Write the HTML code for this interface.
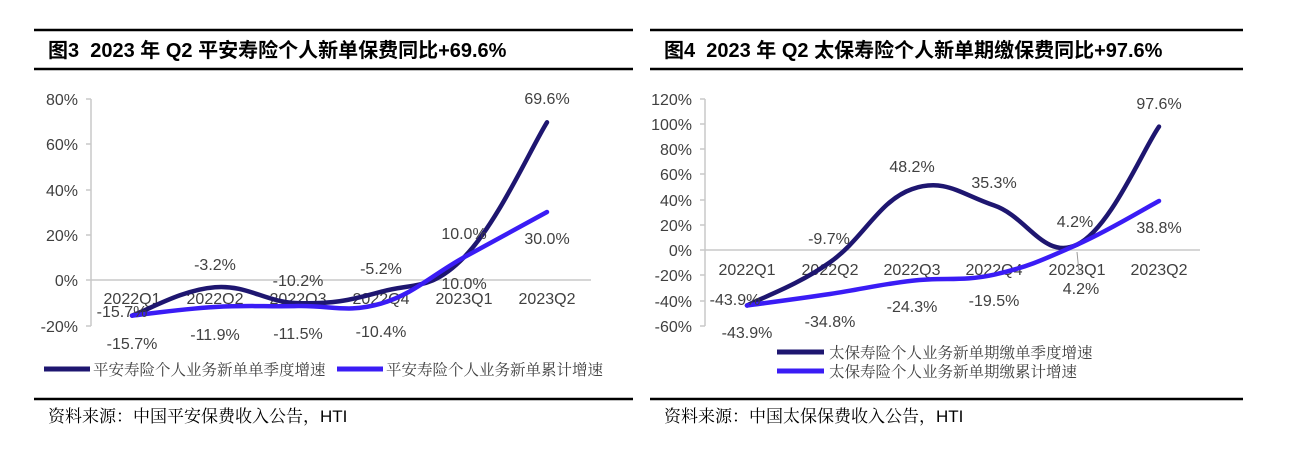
<!DOCTYPE html>
<html><head><meta charset="utf-8"><style>
body{margin:0;background:#fff;width:1305px;height:452px;overflow:hidden}
svg{display:block}
.t{font-family:"Liberation Sans","Noto Sans CJK SC",sans-serif;font-weight:bold;font-size:20px;fill:#000}
.a{font-family:"Liberation Sans",sans-serif;font-size:16px;fill:#404040}
.l{font-family:"Noto Serif CJK SC","Liberation Serif",serif;font-size:15.5px;fill:#404040}
.s{font-family:"Noto Serif CJK SC","Liberation Sans",serif;font-size:17px;fill:#000}
</style></head><body>
<svg width="1305" height="452" xmlns="http://www.w3.org/2000/svg">
<g stroke="#000" stroke-width="2.5">
<line x1="34" y1="30" x2="633" y2="30"/><line x1="34" y1="69" x2="633" y2="69"/><line x1="34" y1="399" x2="633" y2="399"/>
<line x1="650" y1="30" x2="1243" y2="30"/><line x1="650" y1="69" x2="1243" y2="69"/><line x1="650" y1="399" x2="1243" y2="399"/>
</g>
<text class="t" x="48" y="57">图3&#160;&#160;2023 年 Q2 平安寿险个人新单保费同比+69.6%</text>
<text class="t" x="664" y="57">图4&#160;&#160;2023 年 Q2 太保寿险个人新单期缴保费同比+97.6%</text>
<text class="s" x="48" y="422">资料来源：中国平安保费收入公告，<tspan font-family="Liberation Sans">HTI</tspan></text>
<text class="s" x="664" y="422">资料来源：中国太保保费收入公告，<tspan font-family="Liberation Sans">HTI</tspan></text>

<g stroke="#c8c8c8" stroke-width="1.5">
<line x1="91" y1="99" x2="91" y2="326"/><line x1="591" y1="280" x2="91" y2="280"/>
<line x1="86" y1="99" x2="91" y2="99"/><line x1="86" y1="144" x2="91" y2="144"/><line x1="86" y1="190" x2="91" y2="190"/><line x1="86" y1="235" x2="91" y2="235"/><line x1="86" y1="280" x2="91" y2="280"/><line x1="86" y1="326" x2="91" y2="326"/>
</g>
<g class="a" text-anchor="end">
<text x="78" y="105">80%</text><text x="78" y="150">60%</text><text x="78" y="196">40%</text><text x="78" y="241">20%</text><text x="78" y="286">0%</text><text x="78" y="332">-20%</text>
</g>
<g class="a" text-anchor="middle">
<text x="132" y="304">2022Q1</text><text x="215" y="304">2022Q2</text><text x="298" y="304">2022Q3</text><text x="381" y="304">2022Q4</text><text x="464" y="304">2023Q1</text><text x="547" y="304">2023Q2</text>
</g>
<path id="p1" fill="none" stroke="#1e1670" stroke-width="4.5" stroke-linecap="round"/>
<path id="p2" fill="none" stroke="#3a1cf5" stroke-width="4.5" stroke-linecap="round"/>
<g class="a" text-anchor="middle">
<text x="122" y="317">-15.7%</text><text x="215" y="270">-3.2%</text><text x="298" y="286">-10.2%</text><text x="381" y="274">-5.2%</text><text x="464" y="239">10.0%</text><text x="547" y="104">69.6%</text>
<text x="132" y="349">-15.7%</text><text x="215" y="340">-11.9%</text><text x="298" y="339">-11.5%</text><text x="381" y="337">-10.4%</text><text x="464" y="289">10.0%</text><text x="547" y="244">30.0%</text>
</g>
<line x1="44" y1="369" x2="90" y2="369" stroke="#1e1670" stroke-width="5"/>
<text class="l" x="93" y="375">平安寿险个人业务新单单季度增速</text>
<line x1="337" y1="369" x2="383" y2="369" stroke="#3a1cf5" stroke-width="5"/>
<text class="l" x="386" y="375">平安寿险个人业务新单累计增速</text>

<g stroke="#c8c8c8" stroke-width="1.5">
<line x1="705" y1="99" x2="705" y2="326"/><line x1="1200" y1="250" x2="705" y2="250"/>
<line x1="700" y1="99" x2="705" y2="99"/><line x1="700" y1="124" x2="705" y2="124"/><line x1="700" y1="149" x2="705" y2="149"/><line x1="700" y1="174" x2="705" y2="174"/><line x1="700" y1="200" x2="705" y2="200"/><line x1="700" y1="225" x2="705" y2="225"/><line x1="700" y1="250" x2="705" y2="250"/><line x1="700" y1="275" x2="705" y2="275"/><line x1="700" y1="301" x2="705" y2="301"/><line x1="700" y1="326" x2="705" y2="326"/>
</g>
<g class="a" text-anchor="end">
<text x="692" y="105">120%</text><text x="692" y="130">100%</text><text x="692" y="155">80%</text><text x="692" y="180">60%</text><text x="692" y="206">40%</text><text x="692" y="231">20%</text><text x="692" y="256">0%</text><text x="692" y="281">-20%</text><text x="692" y="307">-40%</text><text x="692" y="332">-60%</text>
</g>
<g class="a" text-anchor="middle">
<text x="747" y="275">2022Q1</text><text x="830" y="275">2022Q2</text><text x="912" y="275">2022Q3</text><text x="994" y="275">2022Q4</text><text x="1077" y="275">2023Q1</text><text x="1159" y="275">2023Q2</text>
</g>
<path id="p3" fill="none" stroke="#1e1670" stroke-width="4.5" stroke-linecap="round"/>
<path id="p4" fill="none" stroke="#3a1cf5" stroke-width="4.5" stroke-linecap="round"/>
<line x1="1077" y1="252" x2="1079" y2="272" stroke="#999" stroke-width="1"/>
<g class="a" text-anchor="middle">
<text x="735" y="305">-43.9%</text><text x="829" y="244">-9.7%</text><text x="912" y="172">48.2%</text><text x="994" y="188">35.3%</text><text x="1075" y="227">4.2%</text><text x="1159" y="109">97.6%</text>
<text x="747" y="338">-43.9%</text><text x="830" y="327">-34.8%</text><text x="912" y="312">-24.3%</text><text x="994" y="306">-19.5%</text><text x="1081" y="294">4.2%</text><text x="1159" y="233">38.8%</text>
</g>
<line x1="777" y1="352" x2="824" y2="352" stroke="#1e1670" stroke-width="5"/>
<text class="l" x="829" y="358">太保寿险个人业务新单期缴单季度增速</text>
<line x1="777" y1="371" x2="824" y2="371" stroke="#3a1cf5" stroke-width="5"/>
<text class="l" x="829" y="377">太保寿险个人业务新单期缴累计增速</text>
</svg>
<script>
function sm(xs,vals,y0,k){var p=xs.map(function(x,i){return [x,y0-vals[i]*k]});var d="M"+p[0][0]+","+p[0][1];
for(var i=0;i<p.length-1;i++){var a=p[i-1]||p[i],b=p[i],c=p[i+1],e=p[i+2]||c,t=0.2;
d+=" C"+(b[0]+(c[0]-a[0])*t)+","+(b[1]+(c[1]-a[1])*t)+" "+(c[0]-(e[0]-b[0])*t)+","+(c[1]-(e[1]-b[1])*t)+" "+c[0]+","+c[1];}return d;}
var xl=[132,215,298,381,464,547],xr=[747,830,912,994,1077,1159];
document.getElementById("p1").setAttribute("d",sm(xl,[-15.7,-3.2,-10.2,-5.2,10,69.6],280,2.266));
document.getElementById("p2").setAttribute("d",sm(xl,[-15.7,-11.9,-11.5,-10.4,10,30],280,2.266));
document.getElementById("p3").setAttribute("d",sm(xr,[-43.9,-9.7,48.2,35.3,4.2,97.6],250,1.264));
document.getElementById("p4").setAttribute("d",sm(xr,[-43.9,-34.8,-24.3,-19.5,4.2,38.8],250,1.264));
</script>
</body></html>
